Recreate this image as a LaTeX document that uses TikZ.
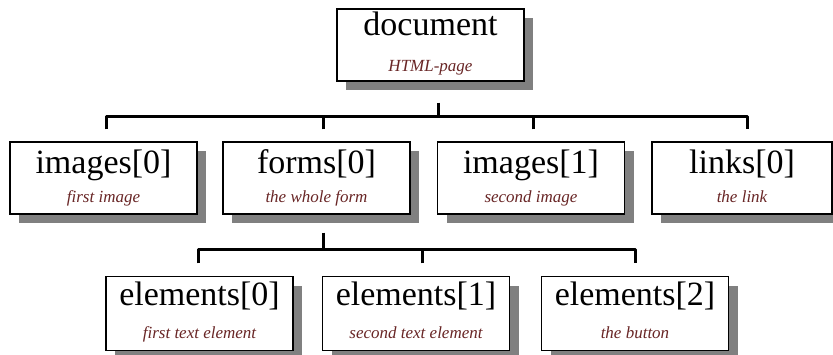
\documentclass[tikz,border=0pt]{standalone}
\usepackage{fontspec}
\setmainfont{Liberation Serif}
\usetikzlibrary{shadows}
\definecolor{subred}{RGB}{105,38,38}

\begin{document}
\begin{tikzpicture}[x=1pt, y=1pt,
	objbox/.style={draw, line width=1.2pt, fill=white, inner sep=0pt, minimum width=187pt,
		font=\fontsize{34}{34}\selectfont,
		drop shadow={shadow xshift=9pt, shadow yshift=-9pt, fill=black!50, opacity=1}},
	toprow/.style={text height=27pt, text depth=45pt},
	midrow/.style={text height=32pt, text depth=40pt},
	lowrow/.style={text height=29pt, text depth=45pt},
	subtext/.style={anchor=base, inner sep=0pt, text=subred, font=\fontsize{17}{17}\selectfont\itshape},
	wire/.style={line width=3pt, line join=round}]
			%%%%% START %%%%%
			\useasboundingbox (0, 0) rectangle (833, 354);
			
			\node[objbox, toprow] (doc) at (430.5, 309) {document};
			\node[subtext] (doc-sub) at ([yshift=10pt]doc.south) {HTML-page};
			
			\node[objbox, midrow] (img0) at (103.5, 176) {images[0]};
			\node[subtext] (img0-sub) at ([yshift=12pt]img0.south) {first image};
			
			\node[objbox, midrow] (forms) at (316.5, 176) {forms[0]};
			\node[subtext] (forms-sub) at ([yshift=12pt]forms.south) {the whole form};
			
			\node[objbox, midrow] (img1) at (531, 176) {images[1]};
			\node[subtext] (img1-sub) at ([yshift=12pt]img1.south) {second image};
			
			\node[objbox, midrow, minimum width=180pt] (links) at (742, 176) {links[0]};
			\node[subtext] (links-sub) at ([yshift=12pt]links.south) {the link};
			
			\node[objbox, lowrow] (elem0) at (199.5, 40.5) {elements[0]};
			\node[subtext] (elem0-sub) at ([yshift=13pt]elem0.south) {first text element};
			
			\node[objbox, lowrow] (elem1) at (416, 40.5) {elements[1]};
			\node[subtext] (elem1-sub) at ([yshift=13pt]elem1.south) {second text element};
			
			\node[objbox, lowrow] (elem2) at (635, 40.5) {elements[2]};
			\node[subtext] (elem2-sub) at ([yshift=13pt]elem2.south) {the button};
			
			% first level
			\coordinate (bus1) at ([xshift=7.5pt, yshift=-35pt]doc.south);
			\draw[wire] ([xshift=7.5pt, yshift=-21pt]doc.south) -- (bus1);
			\draw[wire] ([xshift=2.5pt, yshift=12pt]img0.north) |- (bus1) -| ([xshift=5pt, yshift=12pt]links.north);
			\draw[wire] ([xshift=6.5pt, yshift=12pt]forms.north) -- ++(0, 14);
			\draw[wire] ([xshift=2pt, yshift=12pt]img1.north) -- ++(0, 14);
			
			% second level
			\coordinate (bus2) at ([xshift=6.5pt, yshift=-35pt]forms.south);
			\draw[wire] ([xshift=6.5pt, yshift=-18pt]forms.south) -- (bus2);
			\draw[wire] ([xshift=-1.5pt, yshift=12.5pt]elem0.north) |- (bus2) -| ([yshift=12.5pt]elem2.north);
			\draw[wire] ([xshift=6pt, yshift=12.5pt]elem1.north) -- ++(0, 15);
			
			%%%%% END %%%%%
\end{tikzpicture}
\end{document}
